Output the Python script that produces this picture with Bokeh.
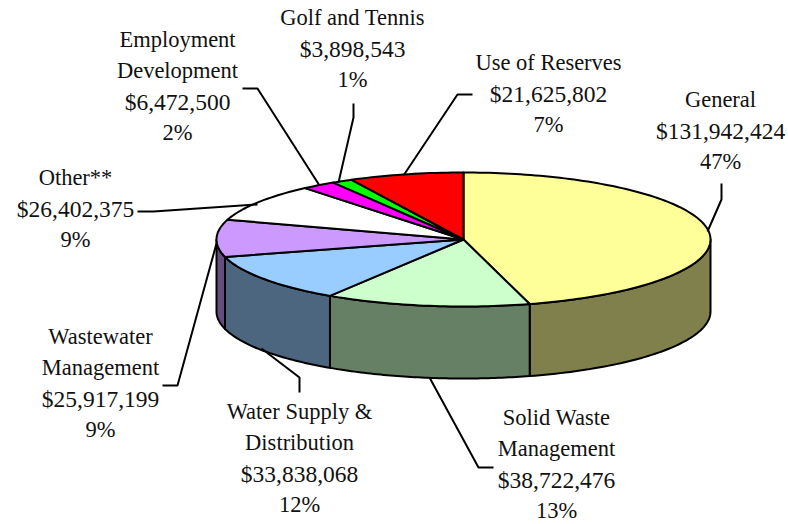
import numpy as np
from bokeh.plotting import figure
from bokeh.models import Range1d
from bokeh.core.properties import value
from bokeh.embed import file_html
from bokeh.resources import INLINE

names = ["General", "Solid Waste\nManagement", "Water Supply &\nDistribution", "Wastewater\nManagement",
         "Other**", "Employment\nDevelopment", "Golf and Tennis", "Use of Reserves"]
amounts = [131942424, 38722476, 33838068, 25917199, 26402375, 6472500, 3898543, 21625802]
percents = ["47%", "13%", "12%", "9%", "9%", "2%", "1%", "7%"]
top_colors = ["#FFFF99", "#CCFFCC", "#99CCFF", "#CC99FF", "#FFFFFF", "#FF00FF", "#00FF00", "#FF0000"]
side_colors = ["#80804D", "#668066", "#4D6680", "#664D80", "#808080", "#800080", "#008000", "#800000"]

# layout (screen pixels)
W, H = 788, 524
CX, CY, RX, RY, DEPTH = 463.0, 239.0, 247.0, 67.0, 72.0
label_x = [720, 556, 299, 100, 75, 177, 352, 548]
label_top = [99, 417, 411, 336, 177, 39, 17, 62]
LINE_H = 31
leaders = [
    ([721, 721, 707], [183, 199, 231]),
    ([493, 478, 429], [467, 467, 377]),
    ([299, 299, 261], [392, 377, 348]),
    ([162, 177, 216], [385, 385, 243]),
    ([137, 153, 257], [211, 211, 204]),
    ([242, 257, 319], [88, 88, 185]),
    ([353, 353, 338], [103, 117, 182]),
    ([472, 457, 403], [94, 94, 175]),
]

p = figure(width=W, height=H, x_range=Range1d(0, W), y_range=Range1d(H, 0),
           output_backend="svg", toolbar_location=None, min_border=0,
           x_axis_location=None, y_axis_location=None, outline_line_color=None)
p.grid.visible = False
p.background_fill_color = "white"


def rim(a0, a1, n=60):
    t = np.linspace(a0, a1, n)
    return CX + RX * np.sin(t), CY - RY * np.cos(t)


fractions = np.array(amounts, dtype=float) / sum(amounts)
edges = np.concatenate([[0.0], np.cumsum(fractions)]) * 2 * np.pi

for i in range(len(amounts)):
    a0 = max(edges[i], np.pi / 2)
    a1 = min(edges[i + 1], 3 * np.pi / 2)
    if a1 > a0:
        x, y = rim(a0, a1)
        p.patch(np.concatenate([x, x[::-1]]), np.concatenate([y, y[::-1] + DEPTH]),
                fill_color=side_colors[i], line_color="black", line_width=2, line_join="round")

for i in range(len(amounts)):
    x, y = rim(edges[i], edges[i + 1], max(8, int(fractions[i] * 300)))
    p.patch(np.concatenate([[CX], x]), np.concatenate([[CY], y]),
            fill_color=top_colors[i], line_color="black", line_width=2, line_join="round")

for lx, ly in leaders:
    p.line(lx, ly, line_color="black", line_width=2)

for i, name in enumerate(names):
    lines = name.split("\n") + [f"${amounts[i]:,}", percents[i]]
    for k, line in enumerate(lines):
        size = "23.5px" if line.startswith("$") else "22.5px"
        p.text([label_x[i]], [label_top[i] + k * LINE_H], text=[line], text_align="center",
               text_baseline="middle", text_font=value("Liberation Serif"),
               text_font_size=value(size), text_color="#111111")

open("out.html", "w").write(file_html(p, INLINE))
